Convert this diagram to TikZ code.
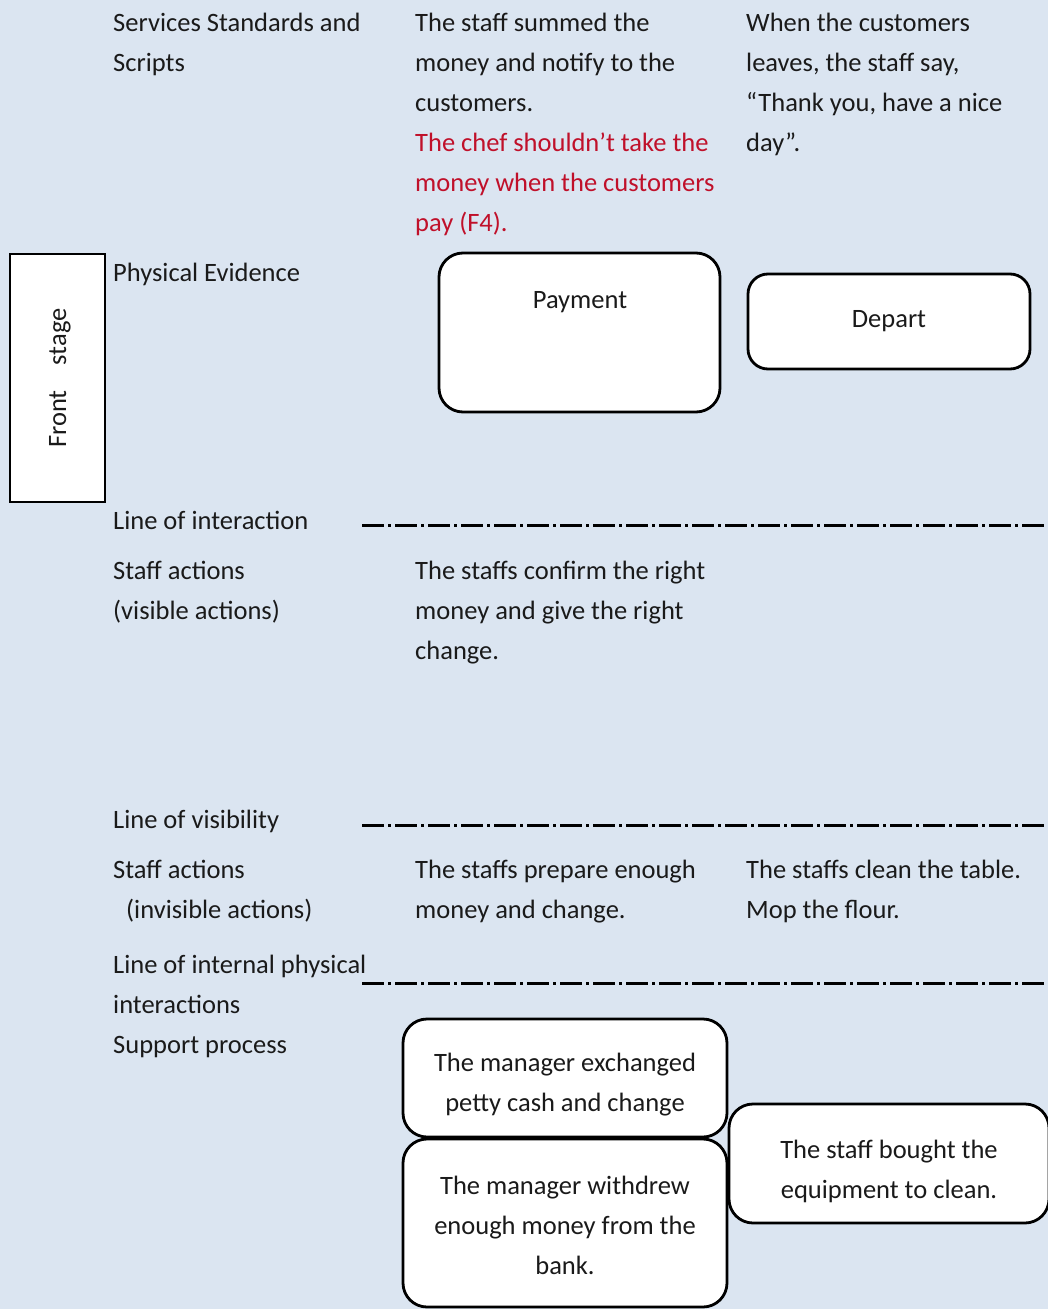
\documentclass[tikz,border=0pt]{standalone}
\usepackage{fontspec}
\setmainfont{Carlito}
\definecolor{bgblue}{HTML}{DBE5F1}
\definecolor{ink}{HTML}{1A1A1A}
\definecolor{warn}{HTML}{C0102A}
\begin{document}
\begin{tikzpicture}[x=1pt,y=-1pt,
  txt/.style={font=\fontsize{26.5}{40}\selectfont, inner sep=0pt, align=left, anchor=base west, text=ink},
  ctxt/.style={font=\fontsize{26.5}{40}\selectfont, inner sep=0pt, align=center, text=ink},
  card/.style={draw=black, fill=white, line width=2.8pt, rounded corners=24pt, inner sep=0pt},
  sepline/.style={draw=black, line width=3pt, dash pattern=on 22pt off 4pt on 3pt off 4pt}]
  % page and background
  \useasboundingbox (0,0) rectangle (1048,1309);
  \fill[bgblue] (0,0) rectangle (1048,1309);

  % left-hand row labels (placed by the baseline of their last line)
  \node[txt] (std)   at (113,71)   {Services Standards and\\Scripts};
  \node[txt] (phys)  at (113,281)  {Physical Evidence};
  \node[txt] (loi)   at (113,529)  {Line of interaction};
  \node[txt] (vis)   at (113,619)  {Staff actions\\(visible actions)};
  \node[txt] (lov)   at (113,828)  {Line of visibility};
  \node[txt] (invis) at (113,918)  {Staff actions\\\hspace*{13pt}(invisible actions)};
  \node[txt] (lip)   at (113,1013) {Line of internal physical\\interactions};
  \node[txt] (sup)   at (113,1053) {Support process};

  % front stage marker
  \draw[fill=white, line width=2.2pt] (10,254) rectangle (105,502);
  \node[ctxt, rotate=90] (front) at (60,378) {Front\hspace{25pt}stage};

  % standards and scripts
  \node[txt] (stdpay) at (415,231) {The staff summed the\\money and notify to the\\customers.\\
    \textcolor{warn}{The chef shouldn’t take the}\\\textcolor{warn}{money when the customers}\\\textcolor{warn}{pay (F4).}};
  \node[txt] (stddep) at (746,151) {When the customers\\leaves, the staff say,\\“Thank you, have a nice\\day”.};

  % physical evidence
  \node[card, minimum width=281pt, minimum height=159pt] (payment) at (579.5,332.5) {};
  \node[ctxt, anchor=base] (paytext) at (580,308) {Payment};
  \node[card, rounded corners=20pt, minimum width=282pt, minimum height=95pt] (depart) at (889,321.5) {};
  \node[ctxt] (deptext) at (889,321) {Depart};

  % separating lines
  \coordinate (l1a) at (362,525);  \coordinate (l1b) at (1048,525);
  \coordinate (l2a) at (362,825);  \coordinate (l2b) at (1048,825);
  \coordinate (l3a) at (362,983);  \coordinate (l3b) at (1048,983);
  \draw[sepline] (l1a) -- (l1b);
  \draw[sepline] (l2a) -- (l2b);
  \draw[sepline] (l3a) -- (l3b);

  % staff actions
  \node[txt] (vispay) at (415,659) {The staffs confirm the right\\money and give the right\\change.};
  \node[txt] (invpay) at (415,918) {The staffs prepare enough\\money and change.};
  \node[txt] (invdep) at (746,918) {The staffs clean the table.\\Mop the flour.};

  % support process
  \node[card, minimum width=324pt, minimum height=118pt] (exch) at (565,1078) {};
  \node[ctxt] (exchtext) at (565,1085) {The manager exchanged\\petty cash and change};
  \node[card, minimum width=324pt, minimum height=168pt] (bank) at (565,1223) {};
  \node[ctxt] (banktext) at (565,1225) {The manager withdrew\\enough money from the\\bank.};
  \node[card, minimum width=320pt, minimum height=119pt] (equip) at (889,1163.5) {};
  \node[ctxt] (equiptext) at (889,1171) {The staff bought the\\equipment to clean.};
\end{tikzpicture}
\end{document}
